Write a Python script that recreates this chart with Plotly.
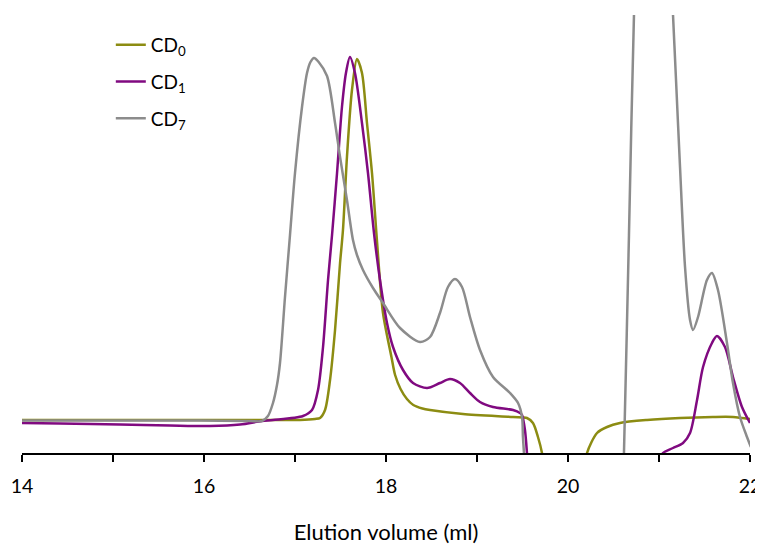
import plotly.graph_objects as go

# ---- data (elution volume in ml, absorbance in arbitrary units) ----
cd0_x = [14.0, 14.857, 15.956, 16.615, 17.055, 17.22, 17.275, 17.33, 17.385, 17.44, 17.495, 17.527,
         17.571, 17.626, 17.681, 17.736, 17.791, 17.846, 17.90, 17.967, 18.06, 18.10, 18.16, 18.23,
         18.30, 18.40, 18.484, 18.846, 19.396, 19.549, 19.615, 19.67, 19.714, 19.75,
         None,
         20.18, 20.209, 20.319, 20.429, 20.571, 20.868, 21.231, 21.593, 21.813, 22.0]
cd0_y = [0.33, 0.33, 0.33, 0.33, 0.33, 0.34, 0.35, 0.43, 0.73, 1.23, 1.90, 2.23,
         2.96, 3.63, 3.94, 3.80, 3.30, 2.80, 2.13, 1.40, 0.96, 0.78, 0.64, 0.54,
         0.48, 0.445, 0.43, 0.39, 0.36, 0.35, 0.30, 0.16, 0.0, -0.3,
         None,
         -0.2, 0.0, 0.20, 0.26, 0.30, 0.33, 0.35, 0.36, 0.36, 0.34]

cd1_x = [14.0, 14.418, 15.077, 15.626, 16.066, 16.396, 16.637, 16.758, 17.088, 17.187, 17.253, 17.308,
         17.363, 17.407, 17.462, 17.516, 17.56, 17.604, 17.659, 17.736, 17.802, 17.868, 17.934, 18.011,
         18.077, 18.187, 18.297, 18.451, 18.593, 18.703, 18.813, 18.923, 19.033, 19.176, 19.396, 19.473,
         19.495, 19.527, 19.549, 19.57,
         None,
         21.011, 21.044, 21.154, 21.264, 21.341, 21.418, 21.484, 21.582, 21.637, 21.725, 21.813, 21.912, 22.0]
cd1_y = [0.30, 0.295, 0.285, 0.275, 0.27, 0.285, 0.32, 0.33, 0.37, 0.43, 0.63, 1.06,
         1.73, 2.18, 2.80, 3.46, 3.80, 3.96, 3.80, 3.30, 2.80, 2.20, 1.73, 1.30,
         1.06, 0.83, 0.70, 0.65, 0.70, 0.74, 0.70, 0.60, 0.51, 0.46, 0.43, 0.40,
         0.38, 0.23, 0.0, -0.3,
         None,
         -0.1, 0.0, 0.05, 0.10, 0.20, 0.53, 0.86, 1.10, 1.17, 1.06, 0.76, 0.46, 0.30]

cd7_x = [14.0, 14.857, 15.956, 16.505, 16.637, 16.703, 16.758, 16.802, 16.835, 16.89, 16.945, 17.0,
         17.077, 17.132, 17.17, 17.209, 17.26, 17.352, 17.44, 17.495, 17.571, 17.637, 17.681, 17.747,
         17.857, 17.967, 18.154, 18.374, 18.484, 18.593, 18.681, 18.758, 18.835, 18.923, 19.033, 19.176,
         19.363, 19.451, 19.495, 19.505, 19.516, 19.53,
         None,
         20.604, 20.615, 20.67, 20.725, 20.791, 20.923, 21.033, 21.099, 21.154, 21.187, 21.231, 21.286,
         21.341, 21.374, 21.429, 21.527, 21.582, 21.648, 21.747, 21.813, 21.89, 21.967, 22.01]
cd7_y = [0.325, 0.325, 0.325, 0.32, 0.32, 0.37, 0.50, 0.68, 0.90, 1.56, 2.18, 2.80,
         3.46, 3.80, 3.91, 3.95, 3.91, 3.77, 3.30, 2.96, 2.53, 2.13, 1.98, 1.83,
         1.65, 1.50, 1.25, 1.11, 1.16, 1.40, 1.66, 1.74, 1.66, 1.36, 1.03, 0.76,
         0.60, 0.50, 0.36, 0.16, 0.0, -0.3,
         None,
         -0.3, 0.0, 2.18, 4.38, 6.0, 7.0, 6.3, 5.45, 4.38, 3.73, 2.86, 1.86,
         1.33, 1.23, 1.36, 1.73, 1.80, 1.63, 1.10, 0.70, 0.36, 0.16, 0.06]

series_names = ["CD<sub>0</sub>", "CD<sub>1</sub>", "CD<sub>7</sub>"]
series_colors = ["#8c8c12", "#800a80", "#8c8c8c"]

tick_vals = [14, 15, 16, 17, 18, 19, 20, 21, 22]
tick_text = ["14", "", "16", "", "18", "", "20", "", "22"]

x_title = "Elution volume (ml)"

# ---- figure ----
fig = go.Figure()
for i, (xs, ys) in enumerate([(cd0_x, cd0_y), (cd1_x, cd1_y), (cd7_x, cd7_y)]):
    fig.add_trace(go.Scatter(
        x=xs, y=ys, mode="lines", name=series_names[i],
        legendgroup=f"g{i}",
        line=dict(color=series_colors[i], width=2.5, shape="spline", smoothing=0.8),
        connectgaps=False,
    ))

FONT = "Lato, 'Open Sans', sans-serif"
# the page body adds an 8px offset; figure sized to fit the 763x545 window
fig.update_layout(
    width=755, height=537,
    margin=dict(l=14, r=13, t=7, b=92, autoexpand=False),
    paper_bgcolor="white", plot_bgcolor="white",
    font=dict(family=FONT, color="black", size=18),
    showlegend=True,
    legend=dict(
        x=0.122, y=0.975, xanchor="left", yanchor="top",
        bgcolor="rgba(0,0,0,0)", borderwidth=0,
        font=dict(family=FONT, size=19, color="black"),
        tracegroupgap=9,
    ),
    xaxis=dict(
        range=[14, 22], showgrid=False, zeroline=False, automargin=False,
        showline=True, linecolor="black", linewidth=2,
        ticks="outside", ticklen=7, tickwidth=2, tickcolor="black",
        ticklabelstandoff=8,
        tickvals=tick_vals, ticktext=tick_text,
        tickfont=dict(family=FONT, size=19.5, color="black"),
        title=dict(text=x_title, font=dict(family=FONT, size=22, color="black"), standoff=30),
    ),
    yaxis=dict(range=[0, 4.38], visible=False, showgrid=False, zeroline=False, automargin=False),
)

fig.write_html("out.html")
